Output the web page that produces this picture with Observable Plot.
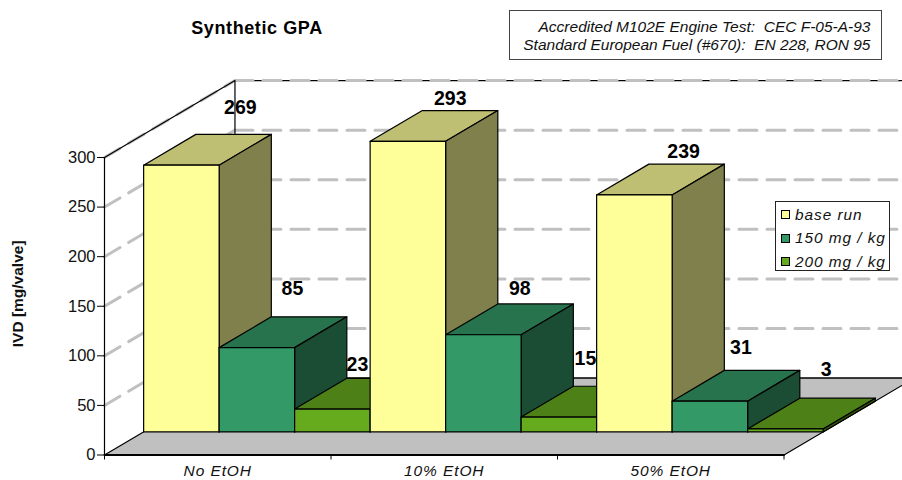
<!DOCTYPE html>
<html>
<head>
<meta charset="utf-8">
<script src="https://cdn.jsdelivr.net/npm/d3@7"></script>
<script src="https://cdn.jsdelivr.net/npm/@observablehq/plot@0.6"></script>
<style>
html,body{margin:0;padding:0;background:#fff}
#wrap{position:relative;width:902px;height:480px;overflow:hidden;font-family:"Liberation Sans",Arial,sans-serif}
#wrap svg{position:absolute;left:0;top:0;overflow:hidden}
#wrap svg g[aria-label="x-axis tick label"] text{letter-spacing:.9px}
#title{position:absolute;left:150px;width:214px;top:18px;margin:0;text-align:center;font-size:18px;font-weight:bold;letter-spacing:.6px;color:#000;line-height:20px}
#note{position:absolute;left:509px;top:10px;width:373px;height:50px;box-sizing:border-box;border:1px solid #444;text-align:right;font-style:italic;font-size:15.5px;line-height:18.7px;padding:6.5px 10.5px 0 0;color:#111;white-space:pre}
#legend{position:absolute;left:775px;top:201px;width:115px;height:70px;box-sizing:border-box;border:1px solid #222;background:#fff;font-style:italic;font-size:15.4px;letter-spacing:.95px;color:#111}
.row{position:absolute;left:5px;white-space:nowrap;line-height:16px;height:16px;display:flex;align-items:center}
.sw{display:inline-block;width:7px;height:7px;border:1.5px solid #000;margin-right:5px;flex:none}
</style>
</head>
<body>
<div id="wrap">
<h1 id="title">Synthetic GPA</h1>
<div id="note">Accredited M102E Engine Test:  CEC F-05-A-93
Standard European Fuel (#670):  EN 228, RON 95</div>
<div id="legend"></div>
</div>
<script>
const categories = ["No EtOH", "10% EtOH", "50% EtOH"];
const seriesNames = ["base run", "150 mg / kg", "200 mg / kg"];
const baseRun = [269, 293, 239];
const mg150 = [85, 98, 31];
const mg200 = [23, 15, 3];
const yTicks = [0, 50, 100, 150, 200, 250, 300];
const frontColors = ["#ffff99", "#339966", "#66aa1e"];
const topColors = ["#bfbf73", "#26734d", "#4d8017"];
const sideColors = ["#80804d", "#1a4d33", "#33550f"];
// hand-placed label nudges of the original, in bar widths and in value units
const labelNudgeX = [.09, -.22, -.36, -.13, -.21, -.34, -.04, -.28, -.15];
const labelNudgeY = [27, 28, 14, 12, 15, 28, 12, 23, 29];

// oblique projection: u in bar widths, v in mg/valve, w depth 0..1
const depthU = 1.728, depthV = 77.6;
const P = (u, v, w) => ({x: u + w * depthU, y: v + w * depthV});
const poly = (id, fill, pts, extra = {}) =>
  [...pts, pts[0]].map(p => ({id, fill, ...P(...p), ...extra}));

const series = [baseRun, mg150, mg200];
const w0 = 0.3, w1 = 0.7;
const bars = [];
categories.forEach((c, i) => series.forEach((s, j) => bars.push({
  u: i * 3 + j, v: s[i], c: j
})));
const uMax = categories.length * 3;

const polys = [];
bars.forEach((b, k) => {
  const {u, v, c} = b;
  polys.push(...poly(`t${k}`, topColors[c], [[u,v,w0],[u+1,v,w0],[u+1,v,w1],[u,v,w1]]));
  polys.push(...poly(`s${k}`, sideColors[c], [[u+1,0,w0],[u+1,v,w0],[u+1,v,w1],[u+1,0,w1]]));
  polys.push(...poly(`f${k}`, frontColors[c], [[u,0,w0],[u+1,0,w0],[u+1,v,w0],[u,v,w0]]));
});
const floor = poly("floor", "#c0c0c0", [[0,0,0],[uMax,0,0],[uMax,0,1],[0,0,1]]);
const wallGrid = yTicks.slice(1).flatMap(t => [P(0,t,0), P(0,t,1)].map(p => ({...p, t})));
const backGrid = yTicks.flatMap(t => [P(0,t,1), P(uMax,t,1)].map(p => ({...p, t})));
const labels = bars.map((b, k) => ({
  x: b.u + .5 + w1 * depthU + labelNudgeX[k],
  y: b.v + w1 * depthV + labelNudgeY[k],
  t: String(b.v)
}));

const chart = Plot.plot({
  width: 902, height: 480,
  marginLeft: 104, marginRight: 118.5, marginTop: 157, marginBottom: 25.5,
  x: {domain: [0, uMax]},
  y: {domain: [0, 300]},
  style: {fontFamily: '"Liberation Sans",Arial,sans-serif', background: "transparent", overflow: "hidden"},
  marks: [
    Plot.line(backGrid.filter(d => d.t === 300 || d.t === 0), {x: "x", y: "y", z: "t", stroke: "#000", strokeWidth: 1.2}),
    Plot.line(backGrid.filter(d => d.t > 0), {x: "x", y: "y", z: "t", stroke: "#c0c0c0", strokeWidth: 3, strokeDasharray: "18 10"}),
    Plot.line(wallGrid, {x: "x", y: "y", z: "t", stroke: "#c0c0c0", strokeWidth: 3, strokeDasharray: "18 10"}),
    Plot.line([P(0,300,0), P(0,300,1), P(0,0,1)], {x: "x", y: "y", stroke: "#000", strokeWidth: 1.2}),
    Plot.line(floor, {x: "x", y: "y", z: "id", fill: "fill", stroke: "#000", strokeWidth: 1.2}),
    Plot.line(polys, {x: "x", y: "y", z: "id", fill: "fill", stroke: "#000", strokeWidth: 1.2, strokeLinejoin: "round"}),
    Plot.line([P(0,0,0), P(uMax,0,0)], {x: "x", y: "y", stroke: "#000", strokeWidth: 1.8}),
    Plot.line([P(0,0,0), P(0,300,0)], {x: "x", y: "y", stroke: "#000", strokeWidth: 1.2}),
    Plot.axisY({ticks: yTicks, tickSize: 7, tickPadding: 2, label: null, fontSize: 16.5, tickFormat: d => d, stroke: "#000", color: "#111"}),
    Plot.axisX({ticks: [0, 3, 6, 9], tickSize: 5, tickFormat: () => "", label: null, stroke: "#000"}),
    Plot.axisX({ticks: [1.5, 4.5, 7.5], tickSize: 0, tickPadding: 10, tickFormat: d => categories[(d - 1.5) / 3], label: null, fontSize: 15.5, fontStyle: "italic", color: "#111"}),
    Plot.text(labels, {x: "x", y: "y", text: "t", fontSize: 19.5, fontWeight: "bold", fill: "#000", stroke: "none"}),
    Plot.text(["IVD [mg/valve]"], {x: () => -1.15, y: () => 162.5, rotate: -90, fontSize: 15.5, fontWeight: "bold", fill: "#111"})
  ]
});
document.getElementById("wrap").insertBefore(chart, document.getElementById("title"));

const legend = document.getElementById("legend");
seriesNames.forEach((n, i) => {
  const r = document.createElement("div");
  r.className = "row";
  r.style.top = (4.5 + i * 23.5) + "px";
  r.innerHTML = `<span class="sw" style="background:${frontColors[i]}"></span>${n}`;
  legend.appendChild(r);
});
</script>
</body>
</html>
